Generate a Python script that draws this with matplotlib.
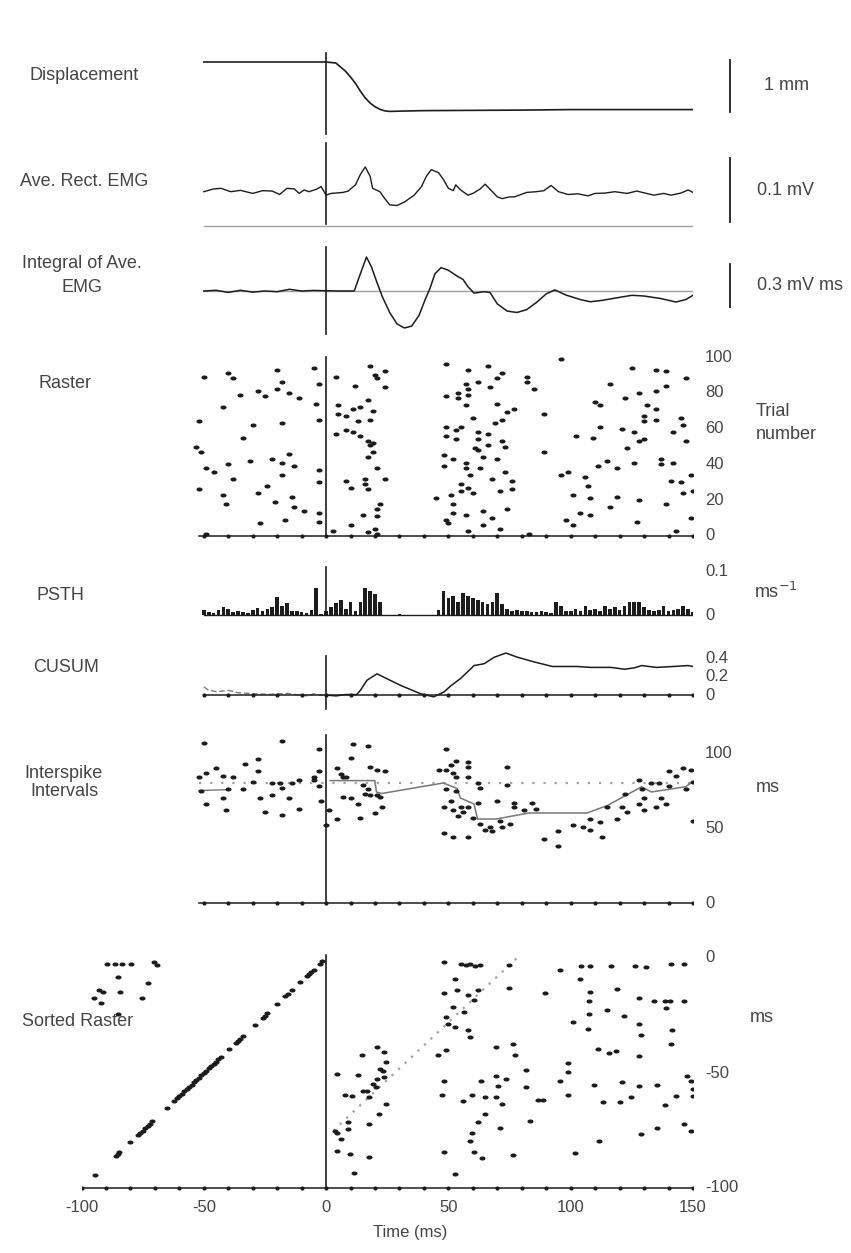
import matplotlib
matplotlib.use('Agg')
import matplotlib.pyplot as plt
from matplotlib.path import Path
from matplotlib.transforms import Affine2D

plt.rcParams['font.family'] = ['Liberation Sans', 'DejaVu Sans']

W, H = 851, 1253
X0, X1 = 81.5, 693.0          # figure pixels of t = -100 and t = 150 ms
INK = '#1c1c1c'
TXT = '#444444'
GREY = '#a0a0a0'

# ---- displacement (mm)
disp_t = [-50, -10, 0, 2, 4, 6, 8, 10, 12, 14, 16, 18, 20, 22, 24, 26, 30, 40, 60, 80, 100, 120, 150]
disp_v = [0, 0, 0, -0.01, -0.02, -0.1, -0.18, -0.29, -0.41, -0.56, -0.69, -0.79, -0.86, -0.91,
          -0.94, -0.95, -0.945, -0.935, -0.93, -0.925, -0.915, -0.915, -0.915]

# ---- averaged rectified EMG (uV)
emg_t = [-50, -46, -43, -39, -35, -30, -26, -22, -19, -16, -13, -11, -9, -7, -4, -2, 0, 2, 7, 9,
         12, 14, 16, 18, 19, 22, 24, 26, 29, 32, 36, 39, 41, 43, 46, 48, 50, 52, 53, 55,
         58, 60, 63, 65, 68, 70, 72, 75, 77, 82, 86, 89, 92, 95, 99, 103, 107, 110, 114, 118,
         123, 127, 131, 134, 138, 141, 145, 148, 150]
emg_v = [53.6, 57.9, 58.9, 53.6, 55.7, 50.9, 55.2, 54.6, 49.2, 58.9, 57.9, 50.9, 56.3, 53.6, 57.4, 61.6,
         48.2, 50.9, 52.5, 54.6, 64.3, 80.5, 92.3, 77.8, 58.9, 53.6, 42.8, 33.1, 32.0, 37.4, 48.2, 61.6,
         77.8, 88.0, 83.2, 72.4, 58.9, 55.2, 64.3, 56.3, 48.2, 50.9, 57.9, 65.4, 53.6, 45.5, 42.8, 45.5,
         45.5, 52.5, 53.6, 55.2, 63.3, 53.6, 49.2, 50.3, 47.1, 50.9, 51.4, 53.6, 50.9, 54.6, 50.9, 48.2,
         50.9, 48.2, 51.4, 56.3, 52.5]

# ---- integral of averaged EMG (mV ms)
intg_t = [-50, -45, -40, -35, -30, -25, -20, -15, -10, -5, 0, 5, 11.5, 14, 16.5, 18.5, 21, 23, 26, 29,
          32, 35, 38, 40.5, 42.5, 44.5, 47, 50, 53, 56, 58, 60.5, 64.5, 67, 70, 74, 78, 82, 86, 90,
          93.5, 98, 104, 108, 113, 118, 125, 130, 137, 143, 147, 150]
intg_v = [0.0, 0.005, -0.01, 0.005, -0.008, 0.0, -0.005, 0.012, 0.0, 0.004, 0.002, 0.0, 0.0, 0.12,
          0.237, 0.17, 0.05, -0.04, -0.15, -0.23, -0.258, -0.245, -0.17, -0.06, 0.02, 0.12, 0.163,
          0.145, 0.11, 0.08, 0.03, -0.015, -0.005, -0.01, -0.09, -0.14, -0.15, -0.13, -0.08, -0.02,
          0.008, -0.028, -0.06, -0.075, -0.065, -0.05, -0.03, -0.035, -0.053, -0.077, -0.06, -0.03]

# ---- raster: spike time (ms), trial number
raster_t = [-50, -40, -38, -20, -18, -5, -3, -35, -28, -25, -20, -15, -11, -4, -42, -52, -30, -18, -3, -34,
            -53, -51, -40, -31, -22, -18, -15, -13, -49, -46, -38, -18, -3, -3, -24, -52, -28, -42, -41, -14,
            -21, -13, -9, -3, -27, -17, -3, -49,
            4, 18, 20, 21, 24, 24, 12, 5, 11, 14, 17, 19, 8, 5, 13, 18, 4, 8, 11, 14,
            17, 18, 19, 19, 17, 21, 24, 8, 10, 16, 17, 16, 22, 21, 15, 21, 10, 3, 17, 20, 21,
            49, 58, 66, 72, 70, 67, 62, 57, 54, 58, 58, 57, 60, 49, 54, 70, 74, 77, 69, 72,
            89, 49, 53, 55, 49, 53, 62, 62, 66, 72, 62, 66, 73, 70, 64, 61, 48, 52, 57, 57,
            48, 59, 63, 68, 73, 76, 55, 58, 55, 60, 71, 76, 51, 52, 45, 74, 52, 57, 64, 68,
            49, 50, 64, 71, 58, 82, 82, 85, 89, 96,
            125, 135, 139, 147, 116, 139, 122, 128, 135, 110, 112, 131, 135, 130, 130, 135, 145, 112, 121, 126,
            142, 146, 102, 109, 128, 130, 123, 147, 115, 111, 119, 126, 137, 137, 142, 99, 96, 106, 107, 141,
            145, 149, 101, 108, 119, 128, 139, 146, 150, 116, 104, 108, 98, 101, 127, 149, 143, 83]
raster_n = [89, 91, 88, 93, 86, 94, 85, 79, 81, 78, 82, 80, 77, 74, 72, 64, 62, 63, 65, 55,
            50, 47, 40, 42, 43, 41, 46, 39, 38, 36, 32, 34, 37, 30, 28, 26, 24, 23, 18, 22,
            19, 16, 14, 13, 7, 9, 8, 1,
            89, 95, 90, 88, 92, 83, 84, 73, 71, 72, 76, 70, 67, 68, 64, 65, 57, 59, 58, 56,
            53, 51, 52, 47, 44, 38, 32, 31, 27, 29, 26, 32, 18, 15, 12, 11, 6, 3, 2, 4, 1,
            96, 93, 95, 91, 88, 83, 86, 85, 80, 79, 82, 73, 66, 78, 77, 74, 69, 71, 63, 65,
            68, 61, 59, 61, 56, 54, 58, 54, 57, 53, 48, 51, 50, 43, 44, 49, 45, 43, 41, 38,
            39, 34, 38, 32, 36, 31, 29, 27, 25, 24, 25, 26, 23, 18, 21, 15, 13, 12, 14, 10,
            9, 7, 6, 4, 3, 89, 86, 82, 47, 99,
            94, 93, 92, 88, 85, 84, 77, 80, 81, 75, 73, 73, 71, 67, 64, 65, 66, 61, 60, 58,
            58, 62, 56, 55, 53, 54, 49, 53, 42, 39, 38, 41, 43, 40, 41, 36, 34, 33, 28, 31,
            30, 34, 23, 21, 22, 20, 18, 24, 25, 16, 13, 12, 9, 6, 8, 10, 3, 1]

# ---- PSTH, 2 ms bins (spikes / ms / trial)
psth_t = list(range(-50, 152, 2))
psth_v = [0.011, 0.008, 0.004, 0.012, 0.018, 0.014, 0.006, 0.009, 0.008, 0.004,
          0.012, 0.016, 0.009, 0.014, 0.018, 0.043, 0.02, 0.027, 0.01, 0.01,
          0.008, 0.004, 0.012, 0.063, 0.003, 0.01, 0.018, 0.027, 0.035, 0.015,
          0.03, 0.01, 0.03, 0.063, 0.055, 0.05, 0.03, 0.0, 0.0, 0.0,
          0.003, 0.0, 0.0, 0.0, 0.0, 0.0, 0.0, 0.0, 0.012, 0.055,
          0.04, 0.045, 0.03, 0.052, 0.045, 0.04, 0.035, 0.03, 0.025, 0.03,
          0.052, 0.025, 0.015, 0.01, 0.012, 0.01, 0.01, 0.006, 0.008, 0.01,
          0.006, 0.004, 0.03, 0.02, 0.01, 0.01, 0.015, 0.01, 0.02, 0.012,
          0.015, 0.01, 0.022, 0.015, 0.018, 0.012, 0.02, 0.03, 0.03, 0.03,
          0.018, 0.012, 0.01, 0.012, 0.02, 0.01, 0.012, 0.015, 0.02, 0.015, 0.008]

# ---- CUSUM
cus_pre_t = [-50, -48.5, -45, -40, -36, -30, -23, -16, -11, -7, -5, -2.5, 0]
cus_pre_v = [0.09, 0.06, 0.036, 0.05, 0.025, 0.014, 0.007, 0.018, 0.0, -0.01, 0.014, 0.0, 0.0]
cus_t = [0, 4, 8, 12.5, 14, 16.7, 20.8, 30.4, 38.6, 44, 48.2, 50.9, 55, 60.5, 64.6, 68.7, 73.5,
         78.3, 85, 92.5, 102.5, 108, 116.5, 122, 126, 129, 135, 142, 148, 150]
cus_v = [0, -0.01, 0.005, 0.005, 0.05, 0.16, 0.23, 0.105, 0.014, -0.02, 0.033, 0.098, 0.18, 0.32,
         0.34, 0.41, 0.456, 0.41, 0.36, 0.31, 0.31, 0.30, 0.30, 0.28, 0.295, 0.32, 0.30, 0.31, 0.32, 0.31]

# ---- interspike intervals (ms) against spike time
isi_t = [-50, -18, -52, -49, -45, -42, -38, -33, -28, -28, -30, -22, -19, -14, -11, -5, -3, -3, -5, -3,
         -51, -40, -34, -27, -22, -18, -15, -11, -18, -25, -41, -42, -49, -2, 1, 0,
         4.5, 6, 7, 11, 10, 17, 18, 21, 24, 4.5, 8, 7, 10, 13, 14, 16, 18, 21, 22, 23, 20, 17, 15,
         49, 53, 51, 46, 49, 52, 58, 58, 53, 58, 63, 62, 74, 74, 49, 53, 51, 48, 52, 55,
         58, 54, 56, 60, 62, 70, 77, 77, 84, 86, 81, 63, 65, 67, 68, 72, 71, 75, 48, 52,
         58, 89, 95, 95,
         101, 105, 108, 108, 112, 113, 115, 119, 121, 122, 123, 128, 130, 128, 129, 130, 133, 136, 135, 137,
         139, 140, 143, 146, 149, 147, 150, 140, 150]
isi_v = [107, 108, 84, 87, 90, 85, 84, 93, 96, 88, 81, 80, 80, 80, 82, 82, 103, 88, 84, 78,
         75, 76, 76, 70, 72, 77, 70, 63, 59, 61, 62, 70, 66, 68, 62, 52,
         90, 86, 84, 106, 97, 105, 91, 89, 88, 56, 84, 71, 70, 66, 57, 73, 72, 72, 71, 64, 60, 76, 79,
         103, 95, 92, 89, 89, 87, 94, 91, 84, 84, 77, 80, 91, 79, 76, 75, 68, 64, 62, 64,
         64, 58, 61, 57, 67, 68, 67, 64, 67, 63, 62, 53, 49, 51, 48, 51, 55, 53, 47, 44,
         44, 43, 48, 38,
         52, 51, 49, 56, 54, 44, 64, 56, 64, 73, 61, 66, 62, 82, 76, 70, 80, 80, 64, 70,
         66, 78, 85, 90, 89, 76, 81, 88, 55]
isi_mean = 80
isi_run_t = [1.7, 19.9, 20.6, 22.7, 47.9, 53.5, 54.9, 60.5, 61.9, 69.6, 82.9, 106.7, 115, 129, 133, 147, 150]
isi_run_v = [81.6, 81.6, 74, 73, 80, 76.4, 70, 66, 56, 56, 60, 60, 65, 77.5, 74, 77.5, 81]
isi_run_pre_t = [-52, -41]
isi_run_pre_v = [75, 75.5]

# ---- sorted raster: last spike before the stimulus (ms), sort key = that time
sorted_pre = [-94.5, -86, -85, -84.5, -80, -77, -76, -75, -74, -73, -72, -71, -65,
              -62, -61, -60, -59, -58, -57, -56, -55, -54, -53, -52, -51, -50, -49, -48, -47, -46,
              -45, -44, -43, -39.5, -37, -36, -35, -34, -29, -26, -25, -24, -20, -16.7, -15.5,
              -14, -10.5, -8, -7, -6, -5, -2.6, -1.5]
sorted_t = [-89.5, -86.5, -83.3, -79.8, -70.2, -69, -85, -72.8, -93, -91.2, -84.2, -94.7, -92, -75.4, -85,
            4.4, 4.4, 3.5, 6.1, 4.4, 8.8, 8.8, 9.6, 11.4, 7.9, 10.5, 13.2, 14.6, 17.5, 17.5, 16.7, 19.3,
            21, 23.7, 23.3, 21.9, 20.2, 21.6, 17.5, 24.6, 21, 23.7, 24.6, 14.9,
            48.2, 55, 57, 59, 61, 63, 52.6, 53.5, 48.2, 62.3, 57.9, 60.5, 51.8, 56.3, 49.1, 50,
            52.6, 57.9, 58.8, 49.1, 45.6, 69.3, 76.3, 77.2, 81.6, 48.2, 63.2, 69.3, 70.2, 73.7, 81.6,
            47.4, 59.6, 64.9, 69.3, 71.9, 56.1, 64.9, 62.3, 59.6, 70.9, 83.3, 58.8, 60.5, 63.7, 48.2,
            52.6, 76.3, 86.8, 88.6, 74.6, 74.6, 89.5,
            95.6, 104.4, 107.9, 116.3, 126.3, 130.7, 141.2, 146.5, 104, 107.9, 118.9, 128.1, 134.2,
            138.6, 140.4, 146.5, 107.5, 139.1, 114.7, 121.8, 100.9, 107.5, 128.1, 107, 128.6, 141.6,
            141.2, 111.1, 115.8, 118.4, 128.1, 98.8, 98.8, 95.6, 109.6, 121.1, 128.1, 135.1, 99.1,
            113.2, 120.2, 124.6, 138.6, 143, 147.4, 149.1, 150, 150, 128.9, 135.1, 146.5, 149.1,
            111.4, 101.8]
sorted_k = [-2.5, -2.5, -2.5, -2.5, -1.9, -2.9, -8.3, -10.7, -13.9, -14.6, -14.6, -17.5, -19.4, -17.5, -24.4,
            -50.4, -76, -75, -78.8, -84, -71.5, -74.5, -85.4, -93.4, -59.4, -59.9, -51, -42.3, -86.6, -72.3,
            -57.7, -54.8, -52.6, -51.8, -49.2, -48.2, -56.2, -67.9, -60.6, -63.5, -38.7, -40.9, -45.3, -57.7,
            -1.9, -2.5, -3.2, -2.5, -3.6, -2.9, -9.2, -13.9, -15, -13.9, -16.1, -18.2, -21.2, -23.4, -25.6,
            -28.5, -29.9, -31.4, -34.3, -40.2, -42.3, -38.7, -37.2, -42.3, -48.6, -53.3, -53.3, -51.5, -55.5,
            -52.6, -56.2, -59.4, -59.4, -60.6, -60.6, -63.5, -62, -67.9, -71.5, -75.9, -73.7, -70.8, -79.6,
            -84.2, -86.9, -84.2, -93.9, -85.8, -61.8, -61.8, -13.1, -2.9, -15.3,
            -5.1, -3.4, -3.4, -3.4, -3.4, -3.9, -2.5, -2.5, -9.2, -14.6, -13.6, -17.5, -18.5,
            -18.7, -18.5, -18.7, -18.5, -21.9, -22.6, -25.3, -27.7, -24.4, -28.5, -30.7, -33.6, -31.4,
            -37.2, -39.4, -41.3, -40.4, -42.8, -45.7, -49.6, -53.3, -55, -54, -55.5, -55, -59.4,
            -62.8, -62.8, -60.6, -63.8, -59.9, -51.1, -53.3, -57, -60, -76.7, -73.7, -72.3, -75.2,
            -79.6, -84.7]
sorted_isi = 78      # expected next spike one mean interval after the last one

time_ticks = [-100, -50, 0, 50, 100, 150]

# spike marks: small flattened blobs
blob = Path.unit_circle().transformed(Affine2D().scale(1.5, 1.0))
SPIKE = dict(ls='none', marker=blob, ms=4.4, mew=0, color=INK)

fig = plt.figure(figsize=(W / 100, H / 100), dpi=100)


def panel(top, bottom, zero_px, px_per_unit):
    ax = fig.add_axes([X0 / W, 1 - bottom / H, (X1 - X0) / W, (bottom - top) / H])
    ax.set_xlim(-100, 150)
    ax.set_ylim(-(bottom - zero_px) / px_per_unit, (zero_px - top) / px_per_unit)
    ax.axis('off')
    return ax


def ftext(x, y, s, **kw):
    kw.setdefault('fontsize', 13)
    kw.setdefault('color', TXT)
    kw.setdefault('ha', 'center')
    kw.setdefault('va', 'center')
    fig.text(x / W, 1 - y / H, s, **kw)


def rlabel(ax, y, s, x=155, size=12):
    ax.text(x, y, s, ha='left', va='center', fontsize=size, color=TXT, clip_on=False)


def baseline(ax, t0, y=0):
    ax.plot([t0, 150], [y, y], color=INK, lw=1.1)
    ticks = [t for t in range(-100, 151, 10) if t >= t0]
    ax.plot(ticks, [y] * len(ticks), ls='none', marker='o', ms=2.0, color=INK)


def scale_bar(ax, lo, hi, label, x_lab=177):
    ax.plot([165, 165], [lo, hi], color=INK, lw=1.3, clip_on=False)
    ax.text(x_lab, (lo + hi) / 2, label, ha='left', va='center', fontsize=13, color=TXT)


# Displacement
ax = panel(40, 145, 62, 52)
ax.plot(disp_t, disp_v, color=INK, lw=1.2)
ax.plot([0, 0], [0.17, -1.38], color=INK, lw=1.2)
scale_bar(ax, -0.96, 0.04, '1 mm', x_lab=179)
ftext(84, 75, 'Displacement')

# Ave. rect. EMG
ax = panel(135, 235, 226, 0.64)
ax.plot(emg_t, emg_v, color=INK, lw=1.0)
ax.plot([-50, 150], [0, 0], color=GREY, lw=1.0)
ax.plot([0, 0], [3, 130], color=INK, lw=1.2)
scale_bar(ax, 6, 106, '0.1 mV', x_lab=176)
ftext(84, 182, 'Ave. Rect. EMG')

# Integral of ave. EMG
ax = panel(238, 345, 291, 143.3)
ax.plot([-50, 150], [0, 0], color=GREY, lw=1.0)
ax.plot(intg_t, intg_v, color=INK, lw=1.1)
ax.plot([0, 0], [0.31, -0.30], color=INK, lw=1.2)
scale_bar(ax, -0.11, 0.19, '0.3 mV ms', x_lab=176)
ftext(82, 263, 'Integral of Ave.')
ftext(82, 287, 'EMG')

# Raster
ax = panel(345, 545, 536, 1.79)
ax.plot(raster_t, raster_n, **SPIKE)
ax.plot([0, 0], [0, 100], color=INK, lw=1.2)
baseline(ax, -52)
for n in range(0, 101, 20):
    rlabel(ax, n, str(n))
ftext(65, 383, 'Raster')
ftext(756, 423, 'Trial\nnumber', ha='left', fontsize=13, linespacing=1.5)

# PSTH
ax = panel(560, 625, 615, 430)
ax.bar(psth_t, psth_v, width=1.5, color=INK, linewidth=0)
ax.plot([-50, 150], [0, 0], color=INK, lw=1.0)
ax.plot([0, 0], [0, 0.112], color=INK, lw=1.2)
rlabel(ax, 0.1, '0.1')
rlabel(ax, 0, '0')
ftext(60, 596, 'PSTH')
ftext(754, 592, 'ms$^{-1}$', ha='left', fontsize=13)

# CUSUM
ax = panel(638, 712, 695, 92)
ax.plot(cus_pre_t, cus_pre_v, color='#7a7a7a', lw=1.0, ls=(0, (4, 2)))
ax.plot(cus_t, cus_v, color=INK, lw=1.1)
ax.plot([0, 0], [0.42, -0.15], color=INK, lw=1.2)
baseline(ax, -50)
for v, s in [(0.4, '0.4'), (0.2, '0.2'), (0, '0')]:
    rlabel(ax, v, s)
ftext(66, 668, 'CUSUM')

# Interspike intervals
ax = panel(728, 915, 903, 1.5)
ax.plot([-52, 150], [isi_mean, isi_mean], color=GREY, lw=1.6, ls=(0, (1, 4)))
ax.plot(isi_run_pre_t, isi_run_pre_v, color='#777777', lw=1.0)
ax.plot(isi_run_t, isi_run_v, color='#777777', lw=1.1)
ax.plot(isi_t, isi_v, **SPIKE)
ax.plot([0, 0], [0, 112], color=INK, lw=1.2)
baseline(ax, -52)
for v in [100, 50, 0]:
    rlabel(ax, v, str(v))
ftext(64, 773, 'Interspike')
ftext(64, 792, 'Intervals')
ftext(756, 788, 'ms', ha='left', fontsize=13)

# Sorted raster
ax = panel(945, 1195, 958, 2.3)
ax.plot([sorted_isi - 75, sorted_isi], [-75, 0], color=GREY, lw=1.6, ls=(0, (1, 3)))
ax.plot(sorted_pre, sorted_pre, **SPIKE)
ax.plot(sorted_t, sorted_k, **SPIKE)
ax.plot([0, 0], [1.5, -100], color=INK, lw=1.2)
baseline(ax, -100, y=-100)
for v in [0, -50, -100]:
    rlabel(ax, v, str(v))
for t in time_ticks:
    ax.text(t, -108.5, str(t), ha='center', va='center', fontsize=12, color=TXT, clip_on=False)
ftext(78, 1022, 'Sorted Raster')
ftext(750, 1017, 'ms', ha='left', fontsize=13)
ftext(410, 1232, 'Time (ms)', fontsize=12)

fig.savefig('out.png', dpi=100)
